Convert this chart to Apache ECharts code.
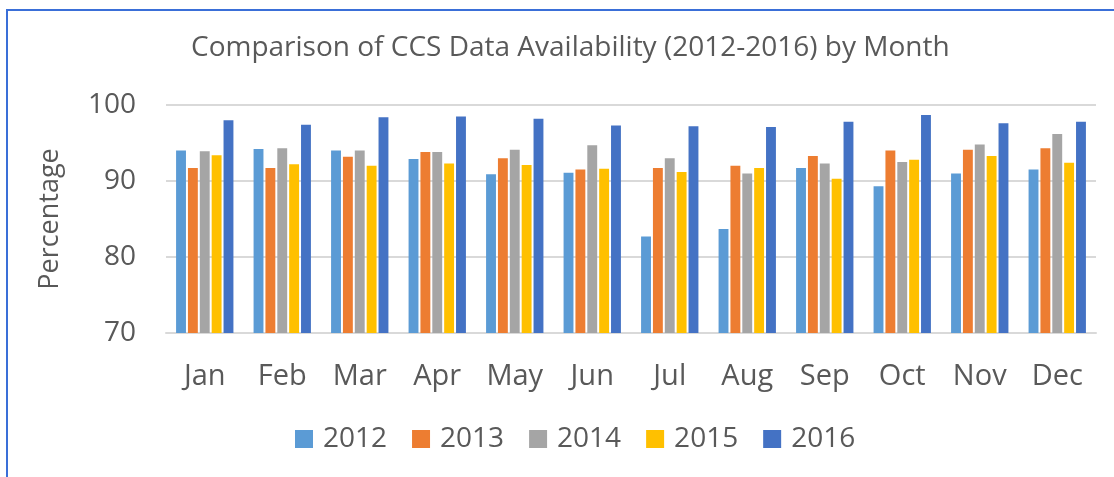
<!DOCTYPE html>
<html>
<head>
<meta charset="utf-8">
<script src="https://cdn.jsdelivr.net/npm/echarts@6/dist/echarts.min.js"></script>
<style>
  html, body { margin: 0; padding: 0; background: #fff; }
  #myChart { width: 1114px; height: 477px; }
</style>
</head>
<body>
<div id="myChart"></div>
<script>
var months = ['Jan', 'Feb', 'Mar', 'Apr', 'May', 'Jun', 'Jul', 'Aug', 'Sep', 'Oct', 'Nov', 'Dec'];
var years = ['2012', '2013', '2014', '2015', '2016'];
var y2012 = [94.0, 94.2, 94.0, 92.9, 90.9, 91.1, 82.7, 83.7, 91.7, 89.3, 91.0, 91.5];
var y2013 = [91.7, 91.7, 93.2, 93.8, 93.0, 91.5, 91.7, 92.0, 93.3, 94.0, 94.1, 94.3];
var y2014 = [93.9, 94.3, 94.0, 93.8, 94.1, 94.7, 93.0, 91.0, 92.3, 92.5, 94.8, 96.2];
var y2015 = [93.4, 92.2, 92.0, 92.3, 92.1, 91.6, 91.2, 91.7, 90.3, 92.8, 93.3, 92.4];
var y2016 = [98.0, 97.4, 98.4, 98.5, 98.2, 97.3, 97.2, 97.1, 97.8, 98.7, 97.6, 97.8];
var colors = ['#5B9BD5', '#ED7D31', '#A5A5A5', '#FFC000', '#4472C4'];

var font = '"Open Sans", sans-serif';
var textColor = '#595959';
var myChart = echarts.init(document.getElementById('myChart'));
var values = [y2012, y2013, y2014, y2015, y2016];

myChart.setOption({
  animation: false,
  color: colors,
  textStyle: { fontFamily: font, color: textColor },
  title: {
    text: 'Comparison of CCS Data Availability (2012-2016) by Month',
    left: 186,
    top: 29,
    textStyle: { fontFamily: font, fontSize: 28, fontWeight: 'normal', color: textColor }
  },
  legend: {
    data: years,
    bottom: 19,
    left: 290,
    itemWidth: 18,
    itemHeight: 18,
    itemGap: 25,
    icon: 'rect',
    textStyle: { fontFamily: font, fontSize: 28, color: textColor, padding: [0, 0, 0, 5] }
  },
  grid: { left: 166, right: 18, top: 105, bottom: 144 },
  xAxis: {
    type: 'category',
    data: months,
    axisTick: { show: false },
    axisLine: { lineStyle: { color: '#d9d9d9', width: 2 } },
    axisLabel: { fontFamily: font, fontSize: 29, color: textColor, margin: 29 }
  },
  yAxis: {
    type: 'value',
    min: 70,
    max: 100,
    interval: 10,
    name: 'Percentage',
    nameLocation: 'middle',
    nameRotate: 90,
    nameGap: 102,
    nameTextStyle: { fontFamily: font, fontSize: 27, color: textColor },
    axisLine: { show: false },
    axisTick: { show: false },
    axisLabel: { fontFamily: font, fontSize: 28, color: textColor, margin: 30 },
    splitLine: { lineStyle: { color: '#d9d9d9', width: 2 } }
  },
  graphic: [
    { type: 'line', shape: { x1: 6, y1: 10, x2: 1114, y2: 10 }, style: { stroke: '#3a6fd8', lineWidth: 2 } },
    { type: 'line', shape: { x1: 7, y1: 10, x2: 7, y2: 477 }, style: { stroke: '#3a6fd8', lineWidth: 2 } }
  ],
  series: years.map(function (y, i) {
    return {
      name: y,
      type: 'bar',
      data: values[i],
      barGap: '20%',
      barCategoryGap: '26%'
    };
  })
});
</script>
</body>
</html>
